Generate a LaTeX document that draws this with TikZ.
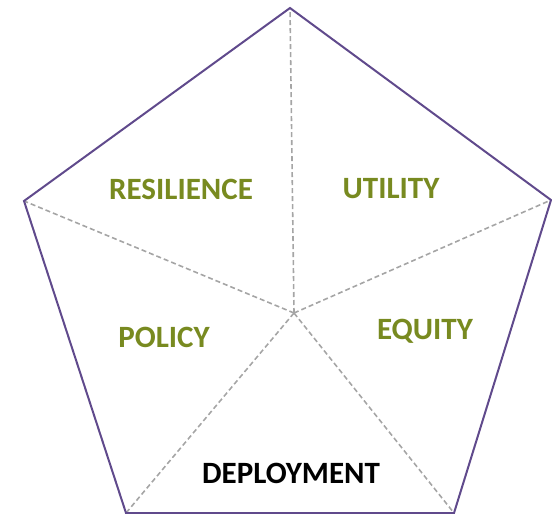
\documentclass[tikz,border=0pt]{standalone}
\usepackage{fontspec}
\setmainfont{Carlito}
\definecolor{pent}{RGB}{96,74,140}
\definecolor{spoke}{RGB}{165,165,165}
\definecolor{olivetxt}{RGB}{120,138,32}
\begin{document}
\begin{tikzpicture}[x=1pt,y=-1pt,
  edge/.style={draw=pent,line width=2pt,line join=miter},
  spokeline/.style={draw=spoke,line width=1.6pt,dash pattern=on 5pt off 3pt},
  lbl/.style={font=\fontsize{31}{36}\selectfont\bfseries,text=olivetxt,inner sep=0pt},
  lblb/.style={lbl,text=black}]
\useasboundingbox (0,0) rectangle (552,514);
\coordinate (T) at (290,8);
\coordinate (R) at (551,200);
\coordinate (BR) at (454,513);
\coordinate (BL) at (126,513);
\coordinate (L) at (24,201);
\coordinate (C) at (294,313);
\foreach \v in {T,R,BR,BL,L} \draw[spokeline] (C) -- (\v);
\draw[edge] (T) -- (R) -- (BR) -- (BL) -- (L) -- cycle;
\node[lbl] (res) at (181,189) {RESILIENCE};
\node[lbl] (uti) at (391,189) {UTILITY};
\node[lbl] (pol) at (164,337) {POLICY};
\node[lbl] (equ) at (425,331) {EQUITY};
\node[lblb] (dep) at (291,473) {DEPLOYMENT};
\end{tikzpicture}
\end{document}
